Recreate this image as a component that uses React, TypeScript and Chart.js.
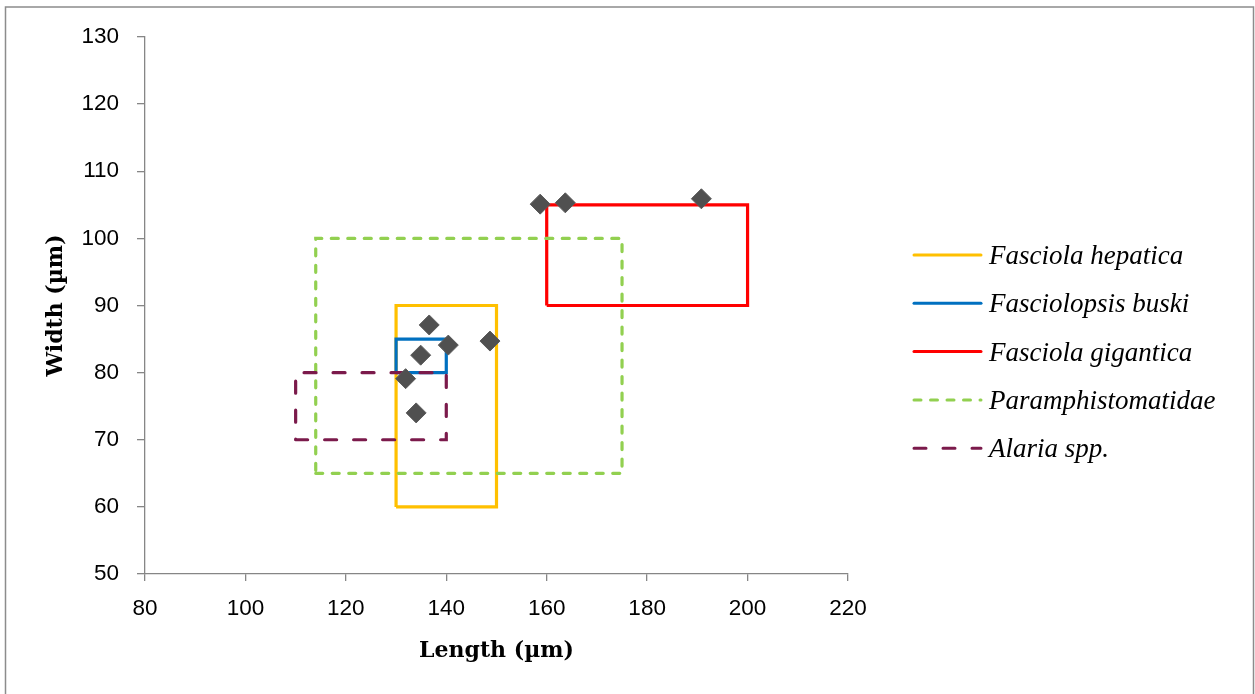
import React, { useEffect, useRef } from "react";
import { Chart, registerables } from "chart.js";

Chart.register(...registerables);

// ---- Data ----
const seriesNames = [
  "Fasciola hepatica",
  "Fasciolopsis buski",
  "Fasciola gigantica",
  "Paramphistomatidae",
  "Alaria spp.",
];
const lengthRanges: number[][] = [
  [130, 150],
  [130, 140],
  [160, 200],
  [114, 175],
  [110, 140],
];
const widthRanges: number[][] = [
  [60, 90],
  [80, 85],
  [90, 105],
  [65, 100],
  [70, 80],
];
const seriesColors = ["#FFC000", "#0070C0", "#FF0000", "#92D050", "#7B1A4B"];
const seriesDashes: number[][] = [[], [], [], [7, 9.5], [12, 17]];

const sampleLength = [136.6, 140.4, 148.7, 134.9, 131.9, 134.0, 158.7, 163.7, 190.8];
const sampleWidth = [87.1, 84.1, 84.7, 82.6, 79.1, 74.0, 105.1, 105.3, 105.9];

const xAxisTitle = "Length (µm)";
const yAxisTitle = "Width (µm)";
const xMin = 80, xMax = 220, xStep = 20;
const yMin = 50, yMax = 130, yStep = 10;

const AXIS_GRAY = "#868686";
const TICK_FONT = { family: "'Liberation Sans', Arial, sans-serif", size: 22.5 };
const TITLE_FONT = { family: "'DejaVu Serif', serif", size: 22, weight: "bold" as const };

const rectPoints = (lx: number[], wy: number[]) => [
  { x: lx[0], y: wy[0] },
  { x: lx[1], y: wy[0] },
  { x: lx[1], y: wy[1] },
  { x: lx[0], y: wy[1] },
  { x: lx[0], y: wy[0] },
];

const legendPlugin = {
  id: "customLegend",
  afterDraw(chart: any) {
    const ctx = chart.ctx as CanvasRenderingContext2D;
    ctx.save();
    // frame border
    ctx.strokeStyle = "#8c8c8c";
    ctx.lineWidth = 1.5;
    ctx.setLineDash([]);
    ctx.strokeRect(5.5, 7, 1248, 700);
    // legend
    const startY = 255;
    const gap = 48.3;
    chart.data.datasets.forEach((ds: any) => {
      if (!ds.isSeries) return;
      const y = startY + ds.seriesIndex * gap;
      ctx.beginPath();
      ctx.strokeStyle = ds.borderColor;
      ctx.lineWidth = 3;
      ctx.lineCap = "round";
      ctx.setLineDash(ds.borderDash || []);
      ctx.moveTo(914, y);
      ctx.lineTo(981, y);
      ctx.stroke();
      ctx.setLineDash([]);
      ctx.fillStyle = "#000";
      ctx.font = "italic 27px 'Liberation Serif', serif";
      ctx.textBaseline = "alphabetic";
      ctx.textAlign = "left";
      ctx.fillText(ds.label, 989, y + 9);
    });
    ctx.restore();
  },
};

export default function App() {
  const canvasRef = useRef<HTMLCanvasElement | null>(null);

  useEffect(() => {
    document.body.style.margin = "0";
    const canvas = canvasRef.current;
    if (!canvas) return;

    const n = seriesNames.length;
    const rectDatasets = seriesNames.map((name, i) => ({
      type: "scatter" as const,
      label: name,
      data: rectPoints(lengthRanges[i], widthRanges[i]),
      showLine: true,
      borderColor: seriesColors[i],
      backgroundColor: seriesColors[i],
      borderWidth: 3.2,
      borderDash: seriesDashes[i],
      borderCapStyle: seriesDashes[i].length ? ("round" as const) : ("butt" as const),
      borderJoinStyle: "miter" as const,
      pointRadius: 0,
      pointHoverRadius: 0,
      tension: 0,
      order: n - i,
      isSeries: true,
      seriesIndex: i,
    }));

    const pointsDataset = {
      type: "scatter" as const,
      label: "Samples",
      data: sampleLength.map((x, i) => ({ x, y: sampleWidth[i] })),
      showLine: false,
      pointStyle: "rectRot" as const,
      pointRadius: 10,
      pointHoverRadius: 10,
      backgroundColor: "#505050",
      borderColor: "#5a5a5a",
      borderWidth: 1,
      order: 0,
    };

    const chart = new Chart(canvas, {
      type: "scatter",
      data: { datasets: [...rectDatasets, pointsDataset] as any },
      options: {
        animation: false,
        responsive: false,
        maintainAspectRatio: false,
        events: [],
        layout: { padding: { left: 30, right: 407, top: 37, bottom: 30 } },
        plugins: {
          legend: { display: false },
          tooltip: { enabled: false },
          title: { display: false },
        },
        scales: {
          x: {
            type: "linear",
            min: xMin,
            max: xMax,
            afterFit: (scale: any) => {
              scale.height = 90;
            },
            ticks: {
              stepSize: xStep,
              color: "#000",
              font: TICK_FONT,
              padding: 14,
              maxRotation: 0,
            },
            grid: {
              drawOnChartArea: false,
              drawTicks: true,
              tickLength: 7,
              color: AXIS_GRAY,
              lineWidth: 1.3,
            },
            border: { color: AXIS_GRAY, width: 1.3 },
            title: {
              display: true,
              text: xAxisTitle,
              color: "#000",
              font: TITLE_FONT,
              padding: { top: 0, bottom: 0 },
            },
          },
          y: {
            type: "linear",
            min: yMin,
            max: yMax,
            afterFit: (scale: any) => {
              scale.width = 115;
            },
            ticks: {
              stepSize: yStep,
              color: "#000",
              font: TICK_FONT,
              padding: 18,
            },
            grid: {
              drawOnChartArea: false,
              drawTicks: true,
              tickLength: 8,
              color: AXIS_GRAY,
              lineWidth: 1.3,
            },
            border: { color: AXIS_GRAY, width: 1.3 },
            title: {
              display: true,
              text: yAxisTitle,
              color: "#000",
              font: TITLE_FONT,
              padding: { top: 13, bottom: 0 },
            },
          },
        },
      } as any,
      plugins: [legendPlugin],
    });

    return () => {
      chart.destroy();
    };
  }, []);

  return (
    <div style={{ width: 1255, height: 694, position: "relative" }}>
      <canvas ref={canvasRef} width={1255} height={694} style={{ display: "block" }} />
    </div>
  );
}
